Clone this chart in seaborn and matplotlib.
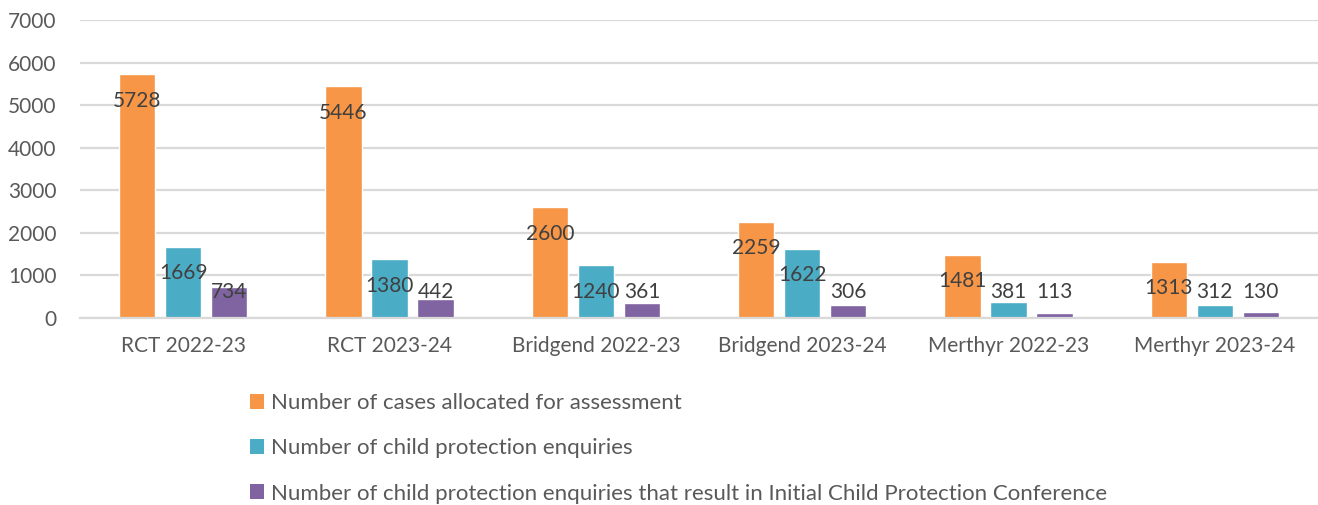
import matplotlib
matplotlib.use("Agg")
import matplotlib.pyplot as plt
from matplotlib.patches import Patch
import seaborn as sns
import pandas as pd
import numpy as np

categories = ["RCT 2022-23", "RCT 2023-24", "Bridgend 2022-23", "Bridgend 2023-24",
              "Merthyr 2022-23", "Merthyr 2023-24"]
series_names = ["Number of cases allocated for assessment",
                "Number of child protection enquiries",
                "Number of child protection enquiries that result in Initial Child Protection Conference"]
cases_allocated = [5728, 5446, 2600, 2259, 1481, 1313]
cp_enquiries = [1669, 1380, 1240, 1622, 381, 312]
icpc = [734, 442, 361, 306, 113, 130]
y_ticks = [0, 1000, 2000, 3000, 4000, 5000, 6000, 7000]
colors = ["#F79646", "#4BACC6", "#8064A2"]

df = pd.DataFrame({
    "category": categories * 3,
    "series": np.repeat(series_names, len(categories)),
    "value": cases_allocated + cp_enquiries + icpc,
})

sns.set_theme(style="white")
plt.rcParams['font.family'] = ['Lato', 'DejaVu Sans']
FS = 15
LEG_FS = 16
TICK_COLOR = "#595959"
LABEL_COLOR = "#404040"

fig = plt.figure(figsize=(13.18, 5.05), dpi=100)
ax = fig.add_axes([80 / 1318, 1 - 318 / 505, 1 - 80 / 1318, 298 / 505])

sns.barplot(data=df, x="category", y="value", hue="series", order=categories,
            hue_order=series_names, palette=colors, width=0.669, gap=0.215,
            saturation=1, legend=False, ax=ax)

ax.set_xlim(-0.5, len(categories) - 0.5)
ax.set_ylim(0, 7000)
ax.set_yticks(y_ticks)
ax.set_yticklabels([str(t) for t in y_ticks])
ax.set_xlabel("")
ax.set_ylabel("")
ax.yaxis.grid(True, color="#D9D9D9", linewidth=1.6)
ax.xaxis.grid(False)
ax.set_axisbelow(True)
for s in ["top", "right", "left"]:
    ax.spines[s].set_visible(False)
ax.spines["bottom"].set_color("#D9D9D9")
ax.spines["bottom"].set_linewidth(1.6)
ax.tick_params(axis="y", length=0, pad=17, labelsize=FS, labelcolor=TICK_COLOR)
ax.tick_params(axis="x", length=0, pad=13, labelsize=FS, labelcolor=TICK_COLOR)

offset = 620
for container in ax.containers:
    for bar in container:
        v = bar.get_height()
        ax.text(bar.get_x() + bar.get_width() / 2, max(v - offset, offset),
                f"{int(round(v))}", ha="center", va="center",
                fontsize=FS, color=LABEL_COLOR)

handles = [Patch(facecolor=c, edgecolor="none") for c in colors]
fig.legend(handles, series_names, loc="upper left",
           bbox_to_anchor=(250 / 1318, 1 - 393 / 505), frameon=False,
           fontsize=LEG_FS, labelcolor=TICK_COLOR, labelspacing=1.14,
           handlelength=0.65, handleheight=0.65, handletextpad=0.3,
           borderpad=0, borderaxespad=0)

fig.savefig("out.png", dpi=100)
